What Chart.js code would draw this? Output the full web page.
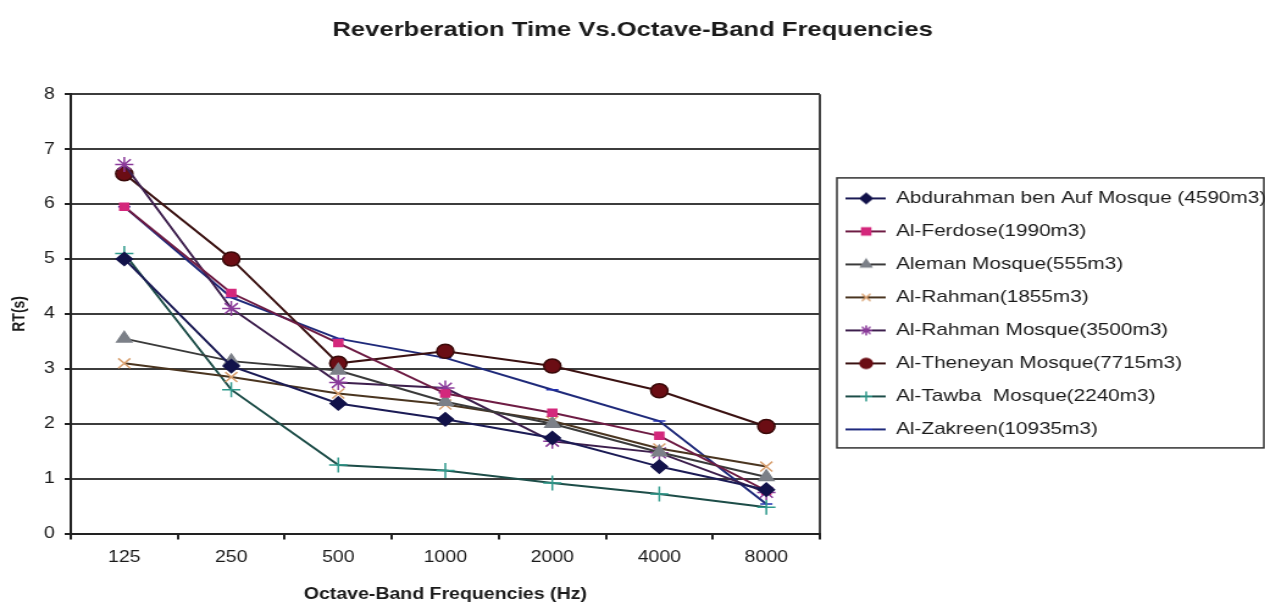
<!DOCTYPE html>
<html>
<head>
<meta charset="utf-8">
<script src="https://cdn.jsdelivr.net/npm/chart.js@4"></script>
<style>
  html, body { margin: 0; padding: 0; background: #fff; overflow: hidden; }
  /* the source picture is stretched sideways, so is this one */
  #wrap { width: 1037px; height: 608px; transform: scaleX(1.22); transform-origin: 0 0; }
</style>
</head>
<body>
<div id="wrap"><canvas id="rtChart" width="1037" height="608"></canvas></div>
<script>

const frequencies = ["125", "250", "500", "1000", "2000", "4000", "8000"];

const abdurahman = [5.0, 3.05, 2.37, 2.08, 1.74, 1.22, 0.8];
const ferdose = [5.95, 4.38, 3.47, 2.55, 2.2, 1.78, 0.78];
const aleman = [3.55, 3.14, 2.97, 2.4, 2.0, 1.48, 1.03];
const rahman = [3.1, 2.85, 2.55, 2.35, 2.05, 1.55, 1.22];
const rahmanMosque = [6.72, 4.1, 2.75, 2.65, 1.68, 1.47, 0.75];
const theneyan = [6.55, 5.0, 3.1, 3.32, 3.05, 2.6, 1.95];
const tawba = [5.1, 2.62, 1.25, 1.15, 0.92, 0.72, 0.48];
const zakreen = [5.95, 4.3, 3.55, 3.2, 2.62, 2.05, 0.54];

const seriesNames = [
    "Abdurahman ben Auf Mosque (4590m3)",
    "Al-Ferdose(1990m3)",
    "Aleman Mosque(555m3)",
    "Al-Rahman(1855m3)",
    "Al-Rahman Mosque(3500m3)",
    "Al-Theneyan Mosque(7715m3)",
    "Al-Tawba  Mosque(2240m3)",
    "Al-Zakreen(10935m3)"
];

const yTicks = [0, 1, 2, 3, 4, 5, 6, 7, 8];


const FONT = "'Liberation Sans', Arial, sans-serif";

const lineColors = ["#1b1b55", "#6e1c44", "#3a3a3a", "#4a3520", "#3d1f4d", "#3b1212", "#1d4d48", "#1f2a7a"];
const markerColors = ["#12124a", "#d4287c", "#7c8088", "#d8a070", "#8a3a9a", "#6b0d14", "#2f9a8c", "#2230b0"];
const markerStyles = ["rectRot", "rect", "triangle", "crossRot", "star", "circle", "cross", "line"];
const markerSizes = [6.5, 5, 7, 7, 7.5, 7, 7.5, 5];

const allValues = [abdurahman, ferdose, aleman, rahman, rahmanMosque, theneyan, tawba, zakreen];


// legend icon: short line with the marker on it
function legendIcon(i) {

    const c = document.createElement("canvas");
    c.width = 38;
    c.height = 14;
    const g = c.getContext("2d");

    g.strokeStyle = lineColors[i];
    g.lineWidth = 2;
    g.beginPath();
    g.moveTo(5, 7);
    g.lineTo(38, 7);
    g.stroke();

    g.fillStyle = markerColors[i];
    g.strokeStyle = markerColors[i];
    g.lineWidth = 1.5;
    Chart.helpers.drawPoint(g, {
        pointStyle: markerStyles[i],
        radius: Math.min(markerSizes[i], 5),
        rotation: 0,
        borderWidth: 1.5
    }, 22, 7);

    return c;
}


const legendBorder = {

    id: "legendBorder",

    afterDraw(chart) {

        const boxes = chart.legend.legendHitBoxes;
        if (!boxes || !boxes.length) return;

        const first = boxes[0];
        const last = boxes[boxes.length - 1];
        const { ctx } = chart;

        ctx.save();
        ctx.strokeStyle = "#333";
        ctx.lineWidth = 1.5;
        ctx.strokeRect(first.left - 2, first.top - 12, chart.width - first.left + 1, last.top + last.height - first.top + 22);
        ctx.restore();
    }
};


new Chart(document.getElementById("rtChart"), {

    type: "line",

    data: {

        labels: frequencies,

        datasets: allValues.map((values, i) => ({
            label: seriesNames[i],
            data: values,
            borderColor: lineColors[i],
            borderWidth: 2,
            tension: 0,
            fill: false,
            pointStyle: markerStyles[i],
            pointRadius: markerSizes[i],
            pointBackgroundColor: markerColors[i],
            pointBorderColor: i === 5 ? "#3a0a0a" : markerColors[i],
            pointBorderWidth: 1.5
        }))
    },

    options: {

        responsive: false,
        animation: false,
        devicePixelRatio: 1,

        layout: { padding: { left: 0, right: 0, top: 0, bottom: 4 } },

        plugins: {

            title: {
                display: true,
                text: "Reverberation Time Vs.Octave-Band Frequencies",
                color: "#1a1a1a",
                font: { family: FONT, size: 21, weight: "bold" },
                padding: { top: 18, bottom: 51 }
            },

            legend: {
                position: "right",
                fullSize: false,
                maxWidth: 365,
                labels: {
                    usePointStyle: true,
                    pointStyleWidth: 38,
                    padding: 16,
                    color: "#1a1a1a",
                    font: { family: FONT, size: 17 },
                    generateLabels(chart) {
                        const items = Chart.defaults.plugins.legend.labels.generateLabels(chart);
                        items.forEach((item, i) => { item.pointStyle = legendIcon(i); });
                        return items;
                    }
                }
            },

            tooltip: { enabled: false }
        },

        scales: {

            x: {
                offset: true,
                grid: {
                    offset: true,
                    drawOnChartArea: true,
                    // only the right edge of the plot gets a full line
                    color: ctx => ctx.tick ? "rgba(0,0,0,0)" : "#444",
                    tickColor: "#222",
                    lineWidth: 2,
                    tickLength: 6
                },
                border: { color: "#222", width: 2 },
                ticks: {
                    color: "#1a1a1a",
                    padding: 8,
                    font: { family: FONT, size: 16 }
                },
                title: {
                    display: true,
                    text: "Octave-Band Frequencies (Hz)",
                    color: "#1a1a1a",
                    font: { family: FONT, size: 16, weight: "bold" },
                    padding: { top: 10, bottom: 0 }
                }
            },

            y: {
                min: yTicks[0],
                max: yTicks[yTicks.length - 1],
                afterFit(scale) { scale.width = 58; },
                grid: {
                    color: "#3c3c3c",
                    tickColor: "#222",
                    lineWidth: 2,
                    tickLength: 5
                },
                border: { color: "#222", width: 2 },
                ticks: {
                    stepSize: 1,
                    color: "#1a1a1a",
                    padding: 8,
                    font: { family: FONT, size: 16 }
                },
                title: {
                    display: true,
                    text: "RT(s)",
                    color: "#1a1a1a",
                    font: { family: FONT, size: 14, weight: "bold" },
                    padding: { top: 8, bottom: 0 }
                }
            }
        }
    },

    plugins: [legendBorder]

});

</script>
</body>
</html>
